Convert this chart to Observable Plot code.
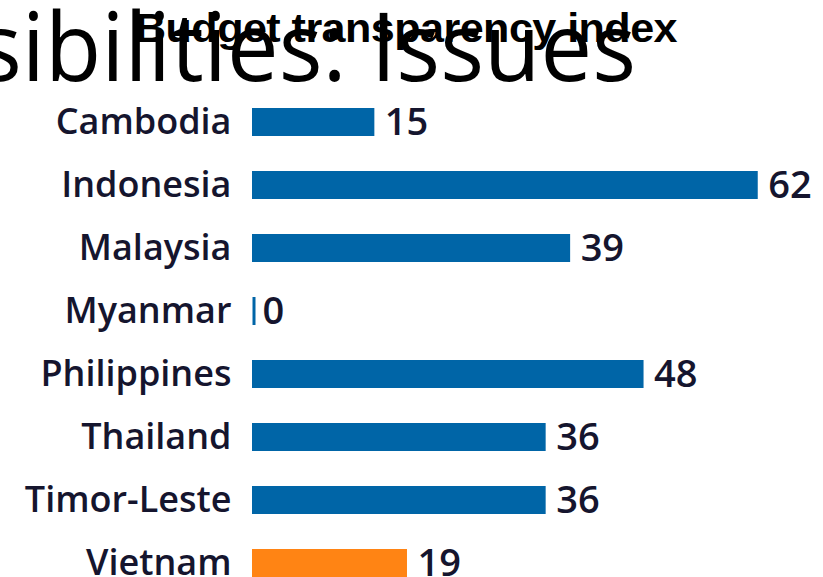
<!DOCTYPE html>
<html>
<head>
<meta charset="utf-8">
<script src="https://cdn.jsdelivr.net/npm/d3@7"></script>
<script src="https://cdn.jsdelivr.net/npm/@observablehq/plot@0.6"></script>
<style>
  html, body { margin: 0; padding: 0; background: #fff; overflow: hidden; width: 823px; height: 577px; }
  #wrap { position: relative; width: 823px; height: 577px; overflow: hidden; }
  #bg { position: absolute; left: -22px; top: -4px; font-family: "Open Sans", sans-serif; font-size: 96px; color: #000; white-space: nowrap; transform-origin: 0 0; line-height: 1; }
  #title { position: absolute; left: 135px; top: 8px; font-family: "Liberation Sans", Arial, sans-serif; font-weight: bold; font-size: 40px; color: #000; white-space: nowrap; transform-origin: 0 0; line-height: 1; letter-spacing: -0.5px; }
  #chart { position: absolute; left: 0; top: 0; }
</style>
</head>
<body>
<div id="wrap">
  <div id="bg">sibilities: Issues</div>
  <div id="chart"></div>
  <div id="title">Budget transparency index</div>
</div>
<script>
const countries = ["Cambodia", "Indonesia", "Malaysia", "Myanmar", "Philippines", "Thailand", "Timor-Leste", "Vietnam"];
const scores = [15, 62, 39, 0, 48, 36, 36, 19];
const highlight = ["Vietnam"];

const data = countries.map((c, i) => ({country: c, value: scores[i], hl: highlight.includes(c)}));
const blue = "#0065A7";
const orange = "#FF8414";
const ink = "#15152e";

const plot = Plot.plot({
  width: 823,
  height: 600,
  marginTop: 90,
  marginBottom: 5,
  marginLeft: 252,
  marginRight: 0,
  style: {fontFamily: "Open Sans, sans-serif", background: "transparent"},
  x: {domain: [0, 70], axis: null},
  y: {domain: countries, paddingInner: 0.56, paddingOuter: 0.28, label: null, tickSize: 0, tickPadding: 21},
  marks: [
    Plot.axisY({tickSize: 0, tickPadding: 21, fontSize: 36, fontWeight: 600, fill: ink, label: null}),
    Plot.barX(data.filter(d => d.value > 0), {x: "value", y: "country", fill: d => d.hl ? orange : blue}),
    Plot.tickX(data.filter(d => d.value === 0), {x: "value", y: "country", stroke: blue, strokeWidth: 3, dx: 1.5}),
    Plot.text(data, {x: "value", y: "country", text: d => String(d.value), textAnchor: "start", fontSize: 38, fontWeight: 600, fill: ink, dx: 10})
  ]
});
document.getElementById("chart").appendChild(plot);

// fit background and title widths
function fit(id, targetWidth) {
  const el = document.getElementById(id);
  const w = el.getBoundingClientRect().width;
  el.style.transform = `scaleX(${targetWidth / w})`;
}
fit("bg", 658);
fit("title", 542);
</script>
</body>
</html>
